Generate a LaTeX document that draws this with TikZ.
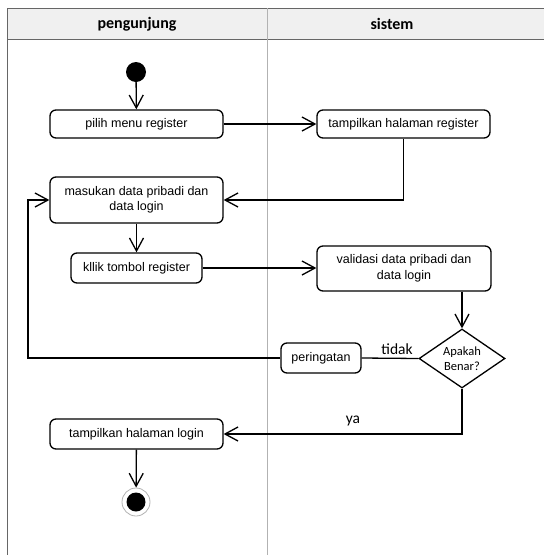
\documentclass[tikz,border=0pt]{standalone}
\usepackage{fontspec}
\setmainfont{Liberation Sans}
\newfontfamily\calfont{Carlito}
\usetikzlibrary{shapes.geometric,arrows.meta,positioning}
\begin{document}
\begin{tikzpicture}[x=1pt,y=-1pt,
  act/.style={draw, line width=1.3pt, rounded corners=6pt, align=center,
    font=\fontsize{12.5}{15.5}\selectfont, inner sep=0pt},
  flow/.style={line width=1.3pt, -{Straight Barb[length=13pt,width=14pt,line width=1.3pt]}},
  plain/.style={line width=1.3pt},
  lbl/.style={font=\calfont\fontsize{15.5}{18}\selectfont},
  hdr/.style={font=\calfont\bfseries\fontsize{16}{19}\selectfont}]
\useasboundingbox (0,0) rectangle (544,555);
% swimlanes
\fill[gray!12] (7,8) rectangle (544,39);
\draw[gray!80!black, line width=0.9pt] (544,8) -- (7,8) -- (7,555);
\draw[gray!80!black, line width=0.9pt] (7,39) -- (544,39);
\draw[gray!60, line width=0.9pt] (267,8) -- (267,555);
\node[hdr] (h1) at (137,24) {pengunjung};
\node[hdr] (h2) at (392,24) {sistem};
% nodes
\node[circle, fill=black, minimum size=20pt, inner sep=0pt] (start) at (136,72) {};
\node[act, minimum width=173pt, minimum height=28pt] (pilih) at (136.5,124) {pilih menu register};
\node[act, minimum width=173pt, minimum height=28pt] (tamp) at (403.5,124) {tampilkan halaman register};
\node[act, minimum width=173pt, minimum height=46pt] (masuk) at (136.5,200) {masukan data pribadi dan\\data login};
\node[act, minimum width=131pt, minimum height=30pt] (klik) at (136.5,268) {kllik tombol register};
\node[act, minimum width=174pt, minimum height=45pt] (valid) at (404,268.5) {validasi data pribadi dan\\data login};
\node[draw, diamond, line width=1.3pt, minimum width=86pt, minimum height=59pt, aspect=1.46, inner sep=0pt,
  font=\calfont\fontsize{12.5}{15}\selectfont, align=center] (dec) at (462,358.5) {Apakah\\Benar?};
\node[act, minimum width=80pt, minimum height=30pt] (per) at (321,358) {peringatan};
\node[act, minimum width=173pt, minimum height=30pt] (login) at (136.5,434) {tampilkan halaman login};
\node[circle, draw=gray!60, line width=0.8pt, fill=white, minimum size=28pt, inner sep=0pt] (end) at (136,502) {};
\node[circle, fill=black, minimum size=19pt, inner sep=0pt] (endin) at (end) {};
\coordinate (lp) at (28,358);
% connectors
\draw[flow] (start) -- (pilih);
\draw[flow] (pilih) -- (tamp);
\draw[flow] (tamp.south) |- (masuk.east);
\draw[flow] (masuk) -- (klik);
\draw[flow] (klik) -- (valid.west |- klik);
\draw[flow] (dec.north |- valid.south) -- (dec.north);
\draw[plain] (dec.west) -- (per.east);
\node[lbl] (tidak) at (397,349) {tidak};
\draw[flow] (per.west) -- (lp) |- (masuk.west);
\draw[flow] (dec.south) |- (login.east);
\node[lbl] (ya) at (353,421) {ya};
\draw[flow] (login) -- (end);
\end{tikzpicture}
\end{document}
